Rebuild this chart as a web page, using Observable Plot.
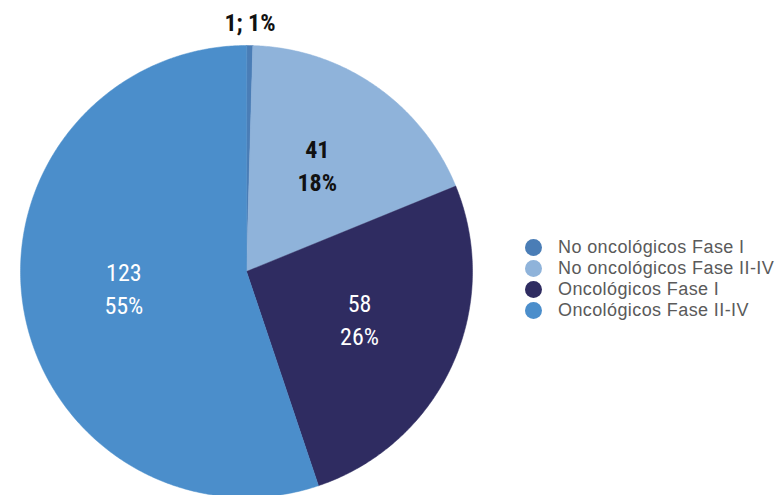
<!DOCTYPE html>
<html>
<head>
<meta charset="utf-8">
<script src="https://cdn.jsdelivr.net/npm/d3@7"></script>
<script src="https://cdn.jsdelivr.net/npm/@observablehq/plot@0.6"></script>
<style>
  html, body { margin: 0; padding: 0; background: #fff; }
  #wrap { position: relative; width: 782px; height: 495px; overflow: hidden; }
  #legend { position: absolute; left: 525px; top: 237px; font-family: "Liberation Sans", Arial, sans-serif; font-size: 18px; letter-spacing: 0.4px; color: #5a5a5a; }
  #legend .row { display: flex; align-items: center; height: 21px; white-space: nowrap; }
  #legend .dot { width: 17px; height: 17px; border-radius: 50%; margin-right: 16px; flex: none; }
</style>
</head>
<body>
<div id="wrap"></div>
<script>
const categories = ["No oncológicos Fase I", "No oncológicos Fase II-IV", "Oncológicos Fase I", "Oncológicos Fase II-IV"];
const values = [1, 41, 58, 123];
const percentLabels = ["1%", "18%", "26%", "55%"];
const colors = ["#4a7db6", "#8fb3da", "#2f2c61", "#4b8ecb"];
const labelColors = ["#111", "#111", "#fff", "#fff"];

const W = 782, H = 495;
const cx = 246, cy = 271, R = 226;

const arcs = d3.pie().sort(null).value(d => d)(values);

// Planar polygons in unit space (x right, y down)
const features = arcs.map((a, i) => {
  const pts = [[0, 0]];
  const n = Math.max(2, Math.ceil((a.endAngle - a.startAngle) / (Math.PI / 360)));
  for (let k = 0; k <= n; k++) {
    const t = a.startAngle + (a.endAngle - a.startAngle) * k / n;
    pts.push([Math.sin(t), -Math.cos(t)]);
  }
  pts.push([0, 0]);
  return {type: "Feature", properties: {i, name: categories[i]}, geometry: {type: "Polygon", coordinates: [pts]}};
});

const labels = arcs.map((a, i) => {
  const mid = (a.startAngle + a.endAngle) / 2;
  const small = values[i] / d3.sum(values) < 0.05;
  const r = small ? 1.09 : 0.55;
  return {
    x: Math.sin(mid) * r,
    y: -Math.cos(mid) * r,
    text: small ? `${values[i]}; ${percentLabels[i]}` : `${values[i]}\n${percentLabels[i]}`,
    fill: labelColors[i],
    weight: labelColors[i] === "#fff" ? "normal" : "bold"
  };
});

const projection = d3.geoIdentity().scale(R).translate([cx, cy]);

const font = "'Liberation Sans Narrow', 'Roboto Condensed', Arial, sans-serif";

const chart = Plot.plot({
  width: W,
  height: H,
  margin: 0,
  projection,
  style: {background: "transparent", overflow: "hidden"},
  marks: [
    Plot.geo(features, {fill: d => colors[d.properties.i], stroke: d => colors[d.properties.i], strokeWidth: 0.5}),
    Plot.text(labels.filter(d => d.weight === "normal"), {
      x: "x", y: "y", text: "text", fill: "fill", dy: -5,
      fontSize: 24, lineHeight: 1.38, fontWeight: "normal", fontFamily: font
    }),
    Plot.text(labels.filter(d => d.weight === "bold"), {
      x: "x", y: "y", text: "text", fill: "fill", dy: -5,
      fontSize: 24, lineHeight: 1.38, fontWeight: "bold", fontFamily: font
    })
  ]
});

const wrap = document.getElementById("wrap");
wrap.appendChild(chart);

const legend = document.createElement("div");
legend.id = "legend";
categories.forEach((c, i) => {
  const row = document.createElement("div");
  row.className = "row";
  const dot = document.createElement("span");
  dot.className = "dot";
  dot.style.background = colors[i];
  const lab = document.createElement("span");
  lab.textContent = c;
  row.appendChild(dot);
  row.appendChild(lab);
  legend.appendChild(row);
});
wrap.appendChild(legend);
</script>
</body>
</html>
